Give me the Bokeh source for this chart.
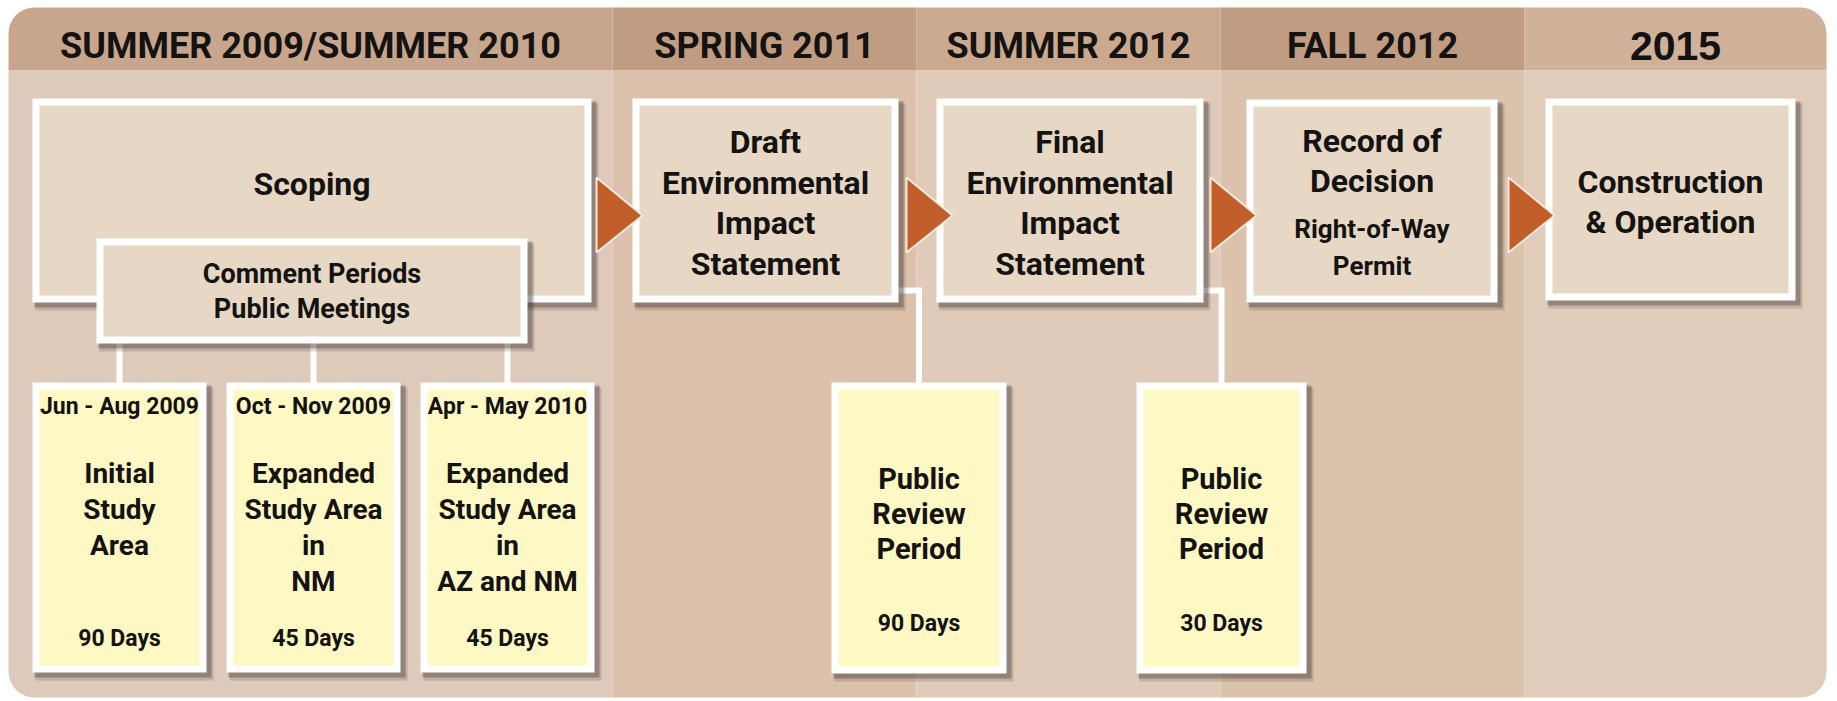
from bokeh.plotting import figure
from bokeh.models import Range1d
from bokeh.core.properties import value
from bokeh.embed import file_html
from bokeh.resources import INLINE

# ---------------- data (texts of the diagram) ----------------
phases = ["SUMMER 2009/SUMMER 2010", "SPRING 2011", "SUMMER 2012", "FALL 2012", "2015"]
stage_lines = [
    ["Scoping"],
    ["Draft", "Environmental", "Impact", "Statement"],
    ["Final", "Environmental", "Impact", "Statement"],
    ["Record of", "Decision"],
    ["Construction", "& Operation"],
]
stage_notes = [[], [], [], ["Right-of-Way", "Permit"], []]
comment_label = ["Comment Periods", "Public Meetings"]
comment_dates = ["Jun - Aug 2009", "Oct - Nov 2009", "Apr - May 2010"]
comment_areas = [
    ["Initial", "Study", "Area"],
    ["Expanded", "Study Area", "in", "NM"],
    ["Expanded", "Study Area", "in", "AZ and NM"],
]
comment_days = [90, 45, 45]
review_label = ["Public", "Review", "Period"]
review_days = [90, 30]

# ---------------- layout / style ----------------
W, H = 1830, 699
FONT = value("Roboto")
TXT = "#151311"
DY = -12  # baseline correction
col_edges = [8, 612, 916, 1220, 1524, 1826]
head_top, head_bot, body_bot = 7, 70, 697
head_colors = ["#c8a68d", "#c09c82", "#caa98f", "#c09c82", "#d0b29b"]
body_colors = ["#decabb", "#dbc1ac", "#e0cbbb", "#dbc2ac", "#e1ccbc"]
BOX_FILL = "#e6d8c5"
YEL_FILL = "#fdf8c4"
ARROW = "#c25e2a"
BORDER = 7

stage_boxes = [(32, 591, 98, 302), (632, 898, 98, 302), (936, 1203, 98, 302),
               (1246, 1497, 99, 302), (1545, 1795, 98, 300)]
stage_base = [[195], [153, 194, 234, 275], [153, 194, 234, 275], [152, 192], [193, 233]]
note_base = [[], [], [], [240, 277], []]
comment_box = (96, 527, 238, 343)
comment_base = [285, 320]
yel_x = [(32, 206), (226, 400), (420, 594)]
yel_y = (382, 672)
rev_x = [(831, 1006), (1136, 1306)]
rev_y = (382, 673)
arrow_base = [596, 906, 1210, 1508]


def Y(v):
    return -v


p = figure(width=W, height=H, output_backend="svg", toolbar_location=None,
           x_range=Range1d(0, W), y_range=Range1d(-H, 0),
           min_border=0, background_fill_color="white", border_fill_color="white")
p.axis.visible = False
p.grid.visible = False
p.outline_line_color = None

# ---- column bands ----
R = 26
for i in range(5):
    l, r = col_edges[i], col_edges[i + 1]
    hr = (R, 0, 0, 0) if i == 0 else ((0, R, 0, 0) if i == 4 else 0)
    br = (0, 0, 0, R) if i == 0 else ((0, 0, R, 0) if i == 4 else 0)
    p.quad(left=[l], right=[r], top=[Y(head_top)], bottom=[Y(head_bot)],
           fill_color=head_colors[i], line_color=None, border_radius=hr)
    p.quad(left=[l], right=[r], top=[Y(head_bot)], bottom=[Y(body_bot)],
           fill_color=body_colors[i], line_color=None, border_radius=br)


def txt(xs, ys, texts, size, font=FONT):
    p.text(x=xs, y=[Y(v + DY) for v in ys], text=texts, text_font=font, text_font_style="bold",
           text_font_size=size, text_align="center", text_baseline="alphabetic",
           text_color=TXT)


# header texts
hx = [(col_edges[i] + col_edges[i + 1]) / 2 for i in range(5)]
txt(hx[:4], [57] * 4, phases[:4], "36px")
txt([hx[4]], [57], [phases[4]], "41px", value("Liberation Sans"))


def shadow(l, r, t, b):
    p.quad(left=[l + 3], right=[r + 7], top=[Y(t + 5)], bottom=[Y(b + 8)],
           fill_color="#3b302a", fill_alpha=0.18, line_color=None)
    p.quad(left=[l + 2], right=[r + 5], top=[Y(t + 3)], bottom=[Y(b + 5)],
           fill_color="#3b302a", fill_alpha=0.35, line_color=None)


def box(l, r, t, b, fill):
    shadow(l, r, t, b)
    p.quad(left=[l], right=[r], top=[Y(t)], bottom=[Y(b)], fill_color="white", line_color=None)
    p.quad(left=[l + BORDER], right=[r - BORDER], top=[Y(t + BORDER)], bottom=[Y(b - BORDER)],
           fill_color=fill, line_color=None)


# ---- connectors (white) ----
cx_y = [(a + b) / 2 for a, b in yel_x]
p.multi_line(xs=[[x, x] for x in cx_y], ys=[[Y(comment_box[3] - 4), Y(yel_y[0] + 2)]] * 3,
             line_color="white", line_width=6)
for si, (rl, rr) in zip([1, 2], rev_x):
    sb = stage_boxes[si]
    cx = (rl + rr) / 2
    p.line(x=[sb[1] - 4, cx, cx], y=[Y(290), Y(290), Y(rev_y[0] + 2)],
           line_color="white", line_width=6, line_join="miter")

# ---- stage boxes ----
for i, (l, r, t, b) in enumerate(stage_boxes):
    box(l, r, t, b, BOX_FILL)
    if i == 0:
        box(*comment_box, BOX_FILL)

for i, (l, r, t, b) in enumerate(stage_boxes):
    cx = (l + r) / 2
    txt([cx] * len(stage_lines[i]), stage_base[i], stage_lines[i], "32px")
    if stage_notes[i]:
        txt([cx] * len(stage_notes[i]), note_base[i], stage_notes[i], "26px")

ccx = (comment_box[0] + comment_box[1]) / 2
txt([ccx] * 2, comment_base, comment_label, "27px")

# ---- yellow comment-period boxes ----
for k, (l, r) in enumerate(yel_x):
    box(l, r, yel_y[0], yel_y[1], YEL_FILL)
    cx = (l + r) / 2
    txt([cx], [418], [comment_dates[k]], "23px")
    lines = comment_areas[k]
    txt([cx] * len(lines), [485 + 36 * j for j in range(len(lines))], lines, "28px")
    txt([cx], [650], [f"{comment_days[k]} Days"], "23px")

# ---- yellow review boxes ----
for k, (l, r) in enumerate(rev_x):
    box(l, r, rev_y[0], rev_y[1], YEL_FILL)
    cx = (l + r) / 2
    txt([cx] * 3, [490 + 35 * j for j in range(3)], review_label, "29px")
    txt([cx], [635], [f"{review_days[k]} Days"], "23px")

# ---- arrows ----
p.patches(xs=[[b, b + 46, b] for b in arrow_base],
          ys=[[Y(177), Y(215), Y(252)] for _ in arrow_base],
          fill_color=ARROW, line_color="#f4e9df", line_width=2)

open("out.html", "w").write(file_html(p, INLINE))
